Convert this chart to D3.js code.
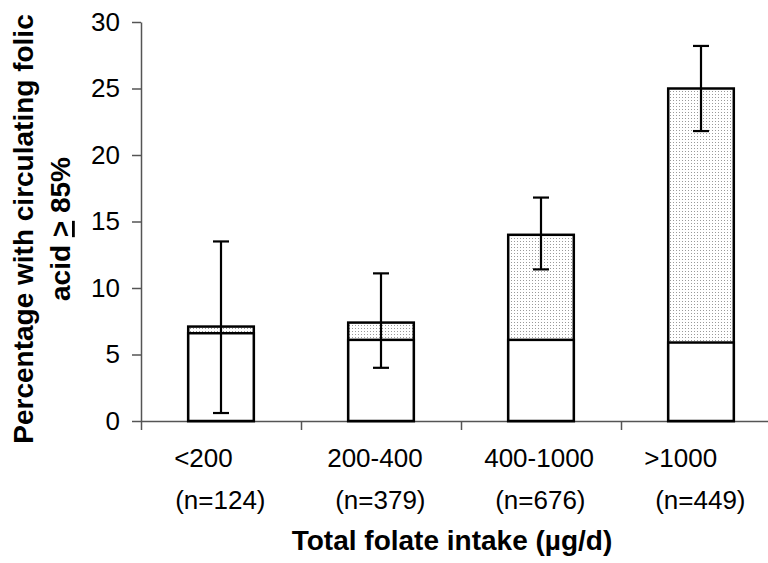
<!DOCTYPE html>
<head>
  <meta charset="utf-8">
  <script src="https://cdn.jsdelivr.net/npm/d3@7"></script>
  <style>
    body { margin: 0; background: #fff; }
    text { font-family: "Liberation Sans", Arial, sans-serif; fill: #000; }
  </style>
</head>
<body>
  <svg width="768" height="563"></svg>
  <script>

  // data
  var categories = ["<200", "200-400", "400-1000", ">1000"];
  var sampleSizes = ["(n=124)", "(n=379)", "(n=676)", "(n=449)"];
  var lowerPart = [6.6, 6.1, 6.1, 5.9];     // white part of each bar
  var totals = [7.1, 7.4, 14.0, 25.0];      // full bar height
  var errLow = [0.6, 4.0, 11.4, 21.8];
  var errHigh = [13.5, 11.1, 16.8, 28.2];
  var yTicks = [0, 5, 10, 15, 20, 25, 30];

  var svg = d3.select("svg");

  var y = d3.scaleLinear()
      .domain([0, 30])
      .range([421, 22]);

  var x = d3.scaleBand()
      .domain(categories)
      .range([141, 781])
      .paddingInner(0.59)
      .paddingOuter(0.295);

  // category boundaries for the x axis ticks
  var xEdge = d3.scaleLinear()
      .domain([0, categories.length])
      .range([141, 781]);

  // stipple fill
  var pat = svg.append("defs").append("pattern")
      .attr("id", "dots")
      .attr("patternUnits", "userSpaceOnUse")
      .attr("width", 3)
      .attr("height", 3);
  pat.append("rect").attr("width", 3).attr("height", 3).attr("fill", "#fff");
  pat.append("rect").attr("x", 1).attr("y", 1).attr("width", 1).attr("height", 1).attr("fill", "#9a9a9a");

  // axes
  var gy = svg.append("g")
      .attr("transform", "translate(141,0)")
      .call(d3.axisLeft(y).tickValues(yTicks).tickSize(9).tickSizeOuter(0).tickPadding(12));
  gy.select(".domain").attr("stroke", "#555").attr("stroke-width", 1.5);
  gy.selectAll(".tick line").attr("stroke", "#555").attr("stroke-width", 1.5);
  gy.selectAll(".tick text")
      .attr("font-size", 26)
      .attr("font-family", "Liberation Sans, Arial, sans-serif");

  var gx = svg.append("g")
      .attr("transform", "translate(0,421)")
      .call(d3.axisBottom(xEdge).tickValues(d3.range(categories.length + 1)).tickSize(9).tickSizeOuter(0).tickFormat(""));
  gx.select(".domain").attr("stroke", "#555").attr("stroke-width", 1.5);
  gx.selectAll(".tick line").attr("stroke", "#555").attr("stroke-width", 1.5);

  var bars = svg.append("g").selectAll("g")
      .data(categories)
      .enter().append("g");

  // stippled upper part (whole bar), then the white lower part over it
  bars.append("rect")
      .attr("x", function(d) { return x(d); })
      .attr("width", x.bandwidth())
      .attr("y", function(d, i) { return y(totals[i]); })
      .attr("height", function(d, i) { return y(0) - y(totals[i]); })
      .attr("fill", "url(#dots)")
      .attr("stroke", "#000")
      .attr("stroke-width", 2.5);

  bars.append("rect")
      .attr("x", function(d) { return x(d); })
      .attr("width", x.bandwidth())
      .attr("y", function(d, i) { return y(lowerPart[i]); })
      .attr("height", function(d, i) { return y(0) - y(lowerPart[i]); })
      .attr("fill", "#fff")
      .attr("stroke", "#000")
      .attr("stroke-width", 2.5);

  // error bars
  var cx = function(d) { return x(d) + x.bandwidth() / 2; };
  bars.append("line")
      .attr("x1", cx).attr("x2", cx)
      .attr("y1", function(d, i) { return y(errLow[i]); })
      .attr("y2", function(d, i) { return y(errHigh[i]); })
      .attr("stroke", "#000").attr("stroke-width", 2.2);
  [errLow, errHigh].forEach(function(arr) {
    bars.append("line")
        .attr("x1", function(d) { return cx(d) - 8; })
        .attr("x2", function(d) { return cx(d) + 8; })
        .attr("y1", function(d, i) { return y(arr[i]); })
        .attr("y2", function(d, i) { return y(arr[i]); })
        .attr("stroke", "#000").attr("stroke-width", 2.2);
  });

  // category labels (left-aligned like the original)
  var line1Shift = [-14, -21, -24, -24];
  bars.append("text")
      .attr("x", function(d, i) { return x(d) + line1Shift[i]; })
      .attr("y", 467)
      .attr("font-size", 26)
      .text(function(d) { return d; });
  bars.append("text")
      .attr("x", function(d) { return x(d) - 13; })
      .attr("y", 509)
      .attr("font-size", 26)
      .text(function(d, i) { return sampleSizes[i]; });

  // axis titles
  svg.append("text")
      .attr("x", 452)
      .attr("y", 550)
      .attr("text-anchor", "middle")
      .attr("font-size", 28)
      .attr("font-weight", "bold")
      .text("Total folate intake (\u00b5g/d)");

  var yt = svg.append("text")
      .attr("transform", "translate(0,229) rotate(-90)")
      .attr("text-anchor", "middle")
      .attr("font-size", 28)
      .attr("font-weight", "bold");
  yt.append("tspan")
      .attr("x", 0)
      .attr("y", 33)
      .text("Percentage with circulating folic");
  yt.append("tspan")
      .attr("x", 0)
      .attr("y", 70)
      .text("acid ");
  yt.append("tspan")
      .attr("text-decoration", "underline")
      .text(">");
  yt.append("tspan").text(" 85%");

  </script>
</body>
